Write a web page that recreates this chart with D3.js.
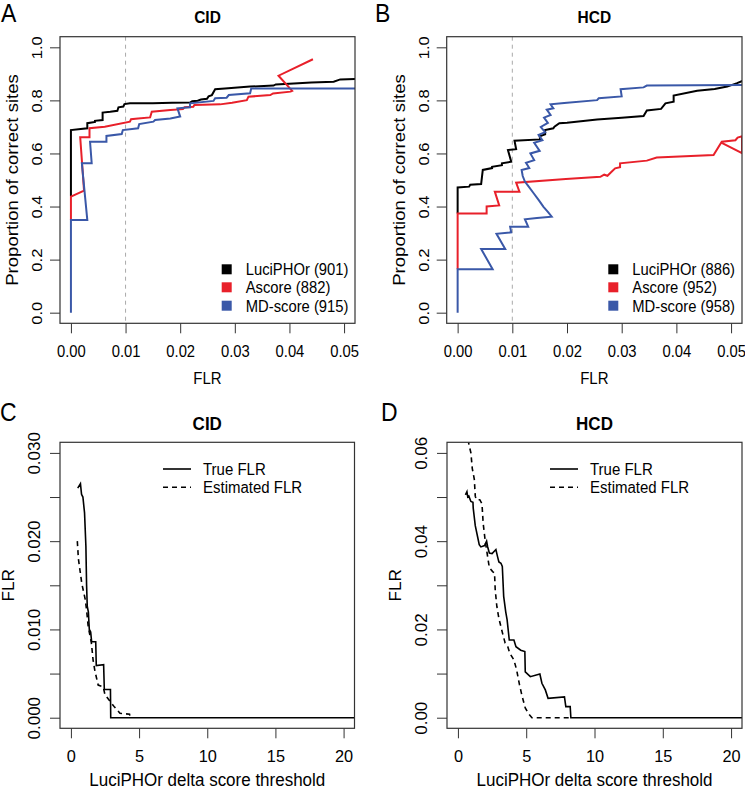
<!DOCTYPE html>
<html><head><meta charset="utf-8">
<script src="https://cdn.jsdelivr.net/npm/d3@7"></script>
<style>body{margin:0;background:#fff}</style>
</head><body>
<script>
// ---------- DATA ----------
const methods = ["LuciPHOr", "Ascore", "MD-score"];
const cidCounts = [901, 882, 915];
const hcdCounts = [886, 952, 958];
const flrTicks = [0, 0.01, 0.02, 0.03, 0.04, 0.05];
const propTicks = [0, 0.2, 0.4, 0.6, 0.8, 1.0];
const deltaTicks = [0, 5, 10, 15, 20];
const cidFlrTicks = [0, 0.005, 0.010, 0.015, 0.020, 0.025, 0.030];
const cidFlrLabels = [0, 0.010, 0.020, 0.030];
const hcdFlrTicks = [0, 0.01, 0.02, 0.03, 0.04, 0.05, 0.06];
const hcdFlrLabels = [0, 0.02, 0.04, 0.06];
const flrCutoff = 0.01;

// Panel A (CID): [FLR, proportion correct]
const aLuciphor = [[0,0.44],[0,0.688],[0.0018,0.692],[0.0030,0.695],[0.0030,0.714],[0.0044,0.719],[0.0044,0.723],[0.0058,0.726],[0.0058,0.754],[0.0072,0.757],[0.0085,0.761],[0.0087,0.774],[0.0096,0.777],[0.0098,0.786],[0.0108,0.789],[0.0150,0.789],[0.0185,0.791],[0.0218,0.792],[0.0222,0.797],[0.0232,0.799],[0.0238,0.803],[0.0249,0.806],[0.0252,0.815],[0.0258,0.820],[0.0264,0.842],[0.0282,0.845],[0.0328,0.852],[0.0371,0.856],[0.0375,0.860],[0.0408,0.864],[0.0440,0.867],[0.0481,0.870],[0.0493,0.879],[0.0525,0.881]];
const aAscore = [[0,0.349],[0,0.437],[0.0024,0.460],[0.0017,0.661],[0.0034,0.661],[0.0034,0.695],[0.0062,0.701],[0.0108,0.720],[0.0110,0.729],[0.0123,0.732],[0.0145,0.736],[0.0148,0.757],[0.0182,0.764],[0.0205,0.767],[0.0208,0.774],[0.0224,0.776],[0.0226,0.783],[0.0273,0.785],[0.0295,0.791],[0.0322,0.801],[0.0325,0.814],[0.0365,0.820],[0.0370,0.826],[0.0402,0.833],[0.0405,0.836],[0.0380,0.893],[0.0443,0.955]];
const aMdscore = [[0,0],[0,0.349],[0.0030,0.349],[0.0020,0.563],[0.0038,0.563],[0.0035,0.644],[0.0065,0.644],[0.0065,0.666],[0.0093,0.673],[0.0095,0.688],[0.0123,0.695],[0.0125,0.711],[0.0151,0.720],[0.0154,0.726],[0.0182,0.732],[0.0200,0.739],[0.0195,0.770],[0.0218,0.774],[0.0218,0.789],[0.0261,0.798],[0.0264,0.808],[0.0285,0.810],[0.0289,0.820],[0.0328,0.827],[0.0330,0.845],[0.0525,0.845]];

// Panel B (HCD)
const bLuciphor = [[0,0.374],[0,0.472],[0.0021,0.475],[0.0023,0.482],[0.0043,0.485],[0.0046,0.538],[0.0063,0.545],[0.0063,0.550],[0.0081,0.556],[0.0081,0.563],[0.0098,0.569],[0.0092,0.613],[0.0107,0.616],[0.0104,0.648],[0.0151,0.653],[0.0150,0.665],[0.0160,0.672],[0.0160,0.688],[0.0175,0.695],[0.0177,0.701],[0.0186,0.714],[0.0200,0.716],[0.0255,0.728],[0.0300,0.735],[0.0340,0.741],[0.0346,0.762],[0.0372,0.768],[0.0380,0.789],[0.0395,0.795],[0.0395,0.818],[0.0438,0.836],[0.0470,0.843],[0.0493,0.852],[0.0511,0.865],[0.0525,0.877]];
const bAscore = [[0,0.164],[0,0.374],[0.0053,0.374],[0.0053,0.400],[0.0076,0.404],[0.0068,0.456],[0.0113,0.456],[0.0107,0.490],[0.0198,0.504],[0.0261,0.512],[0.0268,0.520],[0.0274,0.516],[0.0281,0.530],[0.0288,0.544],[0.0297,0.548],[0.0297,0.563],[0.0346,0.573],[0.0364,0.585],[0.0468,0.594],[0.0483,0.644],[0.0508,0.650],[0.0512,0.660],[0.0520,0.665],[0.0520,0.601],[0.0483,0.640]];
const bMdscore = [[0,0],[0,0.164],[0.0064,0.164],[0.0043,0.240],[0.0087,0.240],[0.0071,0.297],[0.0098,0.303],[0.0096,0.324],[0.0129,0.324],[0.0123,0.352],[0.0145,0.357],[0.0172,0.362],[0.0165,0.380],[0.0157,0.399],[0.0148,0.425],[0.0139,0.450],[0.0130,0.475],[0.0123,0.494],[0.0119,0.515],[0.0117,0.538],[0.0131,0.545],[0.0125,0.565],[0.0140,0.575],[0.0133,0.600],[0.0150,0.610],[0.0140,0.640],[0.0155,0.650],[0.0148,0.670],[0.0160,0.680],[0.0152,0.700],[0.0165,0.715],[0.0158,0.735],[0.0170,0.745],[0.0163,0.765],[0.0175,0.770],[0.0170,0.785],[0.0195,0.790],[0.0255,0.801],[0.0258,0.808],[0.0300,0.815],[0.0298,0.842],[0.0340,0.849],[0.0346,0.856],[0.0525,0.858]];

// Panel C (CID): [delta score threshold, FLR]
const cTrue = [[0.5,0.0260],[0.7,0.0265],[0.78,0.0253],[0.88,0.0250],[1.0,0.0232],[1.1,0.0194],[1.15,0.0150],[1.2,0.0126],[1.28,0.0120],[1.35,0.0100],[1.45,0.0097],[1.52,0.0086],[1.82,0.0086],[1.86,0.0059],[2.4,0.0060],[2.45,0.0032],[2.9,0.0032],[2.92,0],[20.8,0]];
const cEst = [[0.47,0.0200],[0.55,0.0180],[0.8,0.0152],[1.05,0.0134],[1.15,0.0122],[1.27,0.0103],[1.5,0.0085],[1.63,0.0065],[1.76,0.0053],[2.0,0.0037],[2.37,0.0035],[2.5,0.0026],[2.8,0.0020],[3.2,0.0012],[3.6,0.0005],[4.3,0.0004],[4.35,0]];
// Panel D (HCD)
const dTrue = [[0.55,0.0505],[0.66,0.0512],[0.72,0.0500],[0.8,0.0502],[0.95,0.0490],[1.1,0.0488],[1.12,0.0475],[1.27,0.0435],[1.44,0.0410],[1.56,0.0392],[1.68,0.0387],[1.95,0.0390],[2.1,0.0400],[2.17,0.0388],[2.3,0.0373],[2.5,0.0372],[2.78,0.0381],[2.9,0.0365],[3.0,0.0353],[3.15,0.0350],[3.25,0.0343],[3.35,0.0275],[3.5,0.0240],[3.6,0.0222],[3.76,0.0176],[4.1,0.0176],[4.25,0.0161],[4.6,0.0153],[4.9,0.0150],[4.93,0.0104],[5.3,0.0093],[6.0,0.0099],[6.15,0.0078],[6.4,0.0063],[6.6,0.0044],[7.8,0.0047],[7.9,0.0025],[8.22,0.0025],[8.27,0],[20.8,0]];
const dEst = [[0.75,0.0630],[0.8,0.0620],[0.95,0.0600],[1.05,0.0565],[1.2,0.0540],[1.27,0.0502],[1.35,0.0494],[1.6,0.0494],[1.76,0.0485],[1.85,0.0440],[2.0,0.0400],[2.2,0.0360],[2.3,0.0340],[2.54,0.0331],[2.68,0.0328],[2.73,0.0290],[2.85,0.0252],[3.0,0.0225],[3.27,0.0191],[3.46,0.0169],[3.66,0.0160],[3.8,0.0146],[4.1,0.0131],[4.3,0.0108],[4.5,0.0076],[4.69,0.0050],[4.93,0.0022],[5.2,0.0008],[5.42,0],[8.2,0]];

// ---------- DRAW ----------
const FONT = "'Liberation Sans', Arial, Helvetica, sans-serif";
const colors = ["#000000", "#e8202a", "#3a58a8"];
const svg = d3.select("body").append("svg")
  .attr("width", 745).attr("height", 790)
  .style("font-family", FONT);

// horizontal text with vertical stretch r
function htext(g, x, y, r, fs, str, anchor, bold) {
  return g.append("text").attr("transform", `translate(${x},${y}) scale(1,${r})`)
    .attr("text-anchor", anchor || "start")
    .style("font-size", fs + "px").style("font-weight", bold ? "bold" : null).text(str);
}

let clipId = 0;
function panel(o) {
  const r = o.r;
  const x = d3.scaleLinear().domain(o.xd).range([o.box[0], o.box[2]]);
  const y = d3.scaleLinear().domain(o.yd).range([o.box[3], o.box[1]]);
  const g = svg.append("g");
  const cid = "clip" + (clipId++);
  g.append("clipPath").attr("id", cid).append("rect")
    .attr("x", o.box[0]).attr("y", o.box[1])
    .attr("width", o.box[2] - o.box[0]).attr("height", o.box[3] - o.box[1]);

  // x axis
  const xa = g.append("g").attr("transform", `translate(0,${o.box[3]})`)
    .call(d3.axisBottom(x).tickValues(o.xt).tickSize(10).tickPadding(0).tickFormat(o.xf));
  xa.select(".domain").remove();
  xa.selectAll("line").attr("stroke", "#333");
  xa.selectAll("text").attr("y", 0).attr("dy", 0)
    .attr("transform", `translate(0,34) scale(1,${r})`).attr("fill", "#000")
    .style("font-size", o.tickFs + "px").style("font-family", FONT);

  // y axis
  const ya = g.append("g").attr("transform", `translate(${o.box[0]},0)`)
    .call(d3.axisLeft(y).tickValues(o.yt).tickSize(10).tickFormat(o.yf));
  ya.select(".domain").remove();
  ya.selectAll("line").attr("stroke", "#333");
  ya.selectAll("text").attr("x", 0).attr("y", 0).attr("dy", 0)
    .attr("transform", `rotate(-90) translate(0,${-o.ytOff}) scale(${r},1)`)
    .attr("text-anchor", "middle").attr("fill", "#000")
    .style("font-size", o.tickFs + "px").style("font-family", FONT);

  // reference line
  if (o.vline !== undefined) {
    g.append("line").attr("x1", x(o.vline)).attr("x2", x(o.vline))
      .attr("y1", o.box[1]).attr("y2", o.box[3])
      .attr("stroke", "#aaa").attr("stroke-width", 1).attr("stroke-dasharray", "4,4");
  }
  // series
  const line = d3.line().x(d => x(d[0])).y(d => y(d[1]));
  const sg = g.append("g").attr("clip-path", `url(#${cid})`);
  o.series.forEach(s => {
    sg.append("path").datum(s.data).attr("d", line).attr("fill", "none")
      .attr("stroke", s.color).attr("stroke-width", s.width)
      .attr("stroke-dasharray", s.dash || null).attr("stroke-linejoin", "miter");
  });
  // box
  g.append("rect").attr("x", o.box[0]).attr("y", o.box[1])
    .attr("width", o.box[2] - o.box[0]).attr("height", o.box[3] - o.box[1])
    .attr("fill", "none").attr("stroke", "#333").attr("stroke-width", 1.2);

  // titles
  const cx = (o.box[0] + o.box[2]) / 2, cy = (o.box[1] + o.box[3]) / 2;
  htext(g, cx, o.titleY, r, o.titleFs, o.title, "middle", true);
  htext(g, cx, o.xlabY, r, o.xlabFs, o.xlab, "middle");
  g.append("text").attr("transform", `translate(${o.box[0] - o.ylabOff},${cy}) rotate(-90) scale(${r},1)`)
    .attr("text-anchor", "middle").style("font-size", o.ylabFs + "px").text(o.ylab);
  htext(g, o.letterX, o.letterY, 1.1, 23, o.letter);
  return {x, y, g};
}

const fmt2 = d3.format(".2f"), fmt1 = d3.format(".1f"), fmt3 = d3.format(".3f");

function topPanel(box, title, letter, letterX, data, counts, legX) {
  const r = 1.12;
  const p = panel({
    box, r, xd: [-0.002, 0.052], yd: [-0.04, 1.04],
    xt: flrTicks, yt: propTicks, xf: fmt2, yf: fmt1, tickFs: 14.8, ytOff: 18,
    vline: flrCutoff,
    series: data.map((d, i) => ({data: d, color: colors[i], width: 2})),
    title, titleY: 23, titleFs: 15.5,
    xlab: "FLR", xlabY: 384, xlabFs: 15,
    ylab: "Proportion of correct sites", ylabOff: 42, ylabFs: 16.6,
    letter, letterX, letterY: 22
  });
  const legY = [269.3, 287.3, 305.7];
  methods.forEach((m, i) => {
    p.g.append("rect").attr("x", legX - 5).attr("y", legY[i] - 5).attr("width", 10).attr("height", 10)
      .attr("fill", colors[i]);
    htext(p.g, legX + 19, legY[i] + 6, r, 14.8, `${m} (${counts[i]})`);
  });
}
topPanel([60, 36.7, 355, 323.3], "CID", "A", 1, [aLuciphor, aAscore, aMdscore], cidCounts, 226.7);
topPanel([446.7, 36.7, 742, 323.3], "HCD", "B", 375, [bLuciphor, bAscore, bMdscore], hcdCounts, 613.3);

function bottomPanel(box, title, letter, letterX, yd, yt, ylabels, yf, trueD, estD, legX) {
  const r = 1.04;
  const p = panel({
    box, r, xd: [-0.8, 20.8], yd,
    xt: deltaTicks, yt, xf: d3.format("d"),
    yf: v => ylabels.some(l => Math.abs(l - v) < 1e-9) ? yf(v) : "",
    tickFs: 16.3, ytOff: 20,
    series: [{data: trueD, color: "#000", width: 1.6},
             {data: estD, color: "#000", width: 1.6, dash: "5,4"}],
    title, titleY: 430, titleFs: 17,
    xlab: "LuciPHOr delta score threshold", xlabY: 786, xlabFs: 17,
    ylab: "FLR", ylabOff: 46, ylabFs: 16.5,
    letter, letterX, letterY: 421
  });
  const items = [["True FLR", null], ["Estimated FLR", "5,4"]];
  const ly = [469, 487.3];
  items.forEach((it, i) => {
    p.g.append("line").attr("x1", legX).attr("x2", legX + 28).attr("y1", ly[i]).attr("y2", ly[i])
      .attr("stroke", "#000").attr("stroke-width", 1.6).attr("stroke-dasharray", it[1]);
    htext(p.g, legX + 40, ly[i] + 5.5, r, 15, it[0]);
  });
}
bottomPanel([60, 442.3, 354.5, 728.3], "CID", "C", 0, [-0.0012, 0.0312], cidFlrTicks, cidFlrLabels, fmt3, cTrue, cEst, 163);
bottomPanel([447, 442.3, 742, 728.3], "HCD", "D", 381, [-0.0024, 0.0624], hcdFlrTicks, hcdFlrLabels, fmt2, dTrue, dEst, 550);
</script>
</body></html>
